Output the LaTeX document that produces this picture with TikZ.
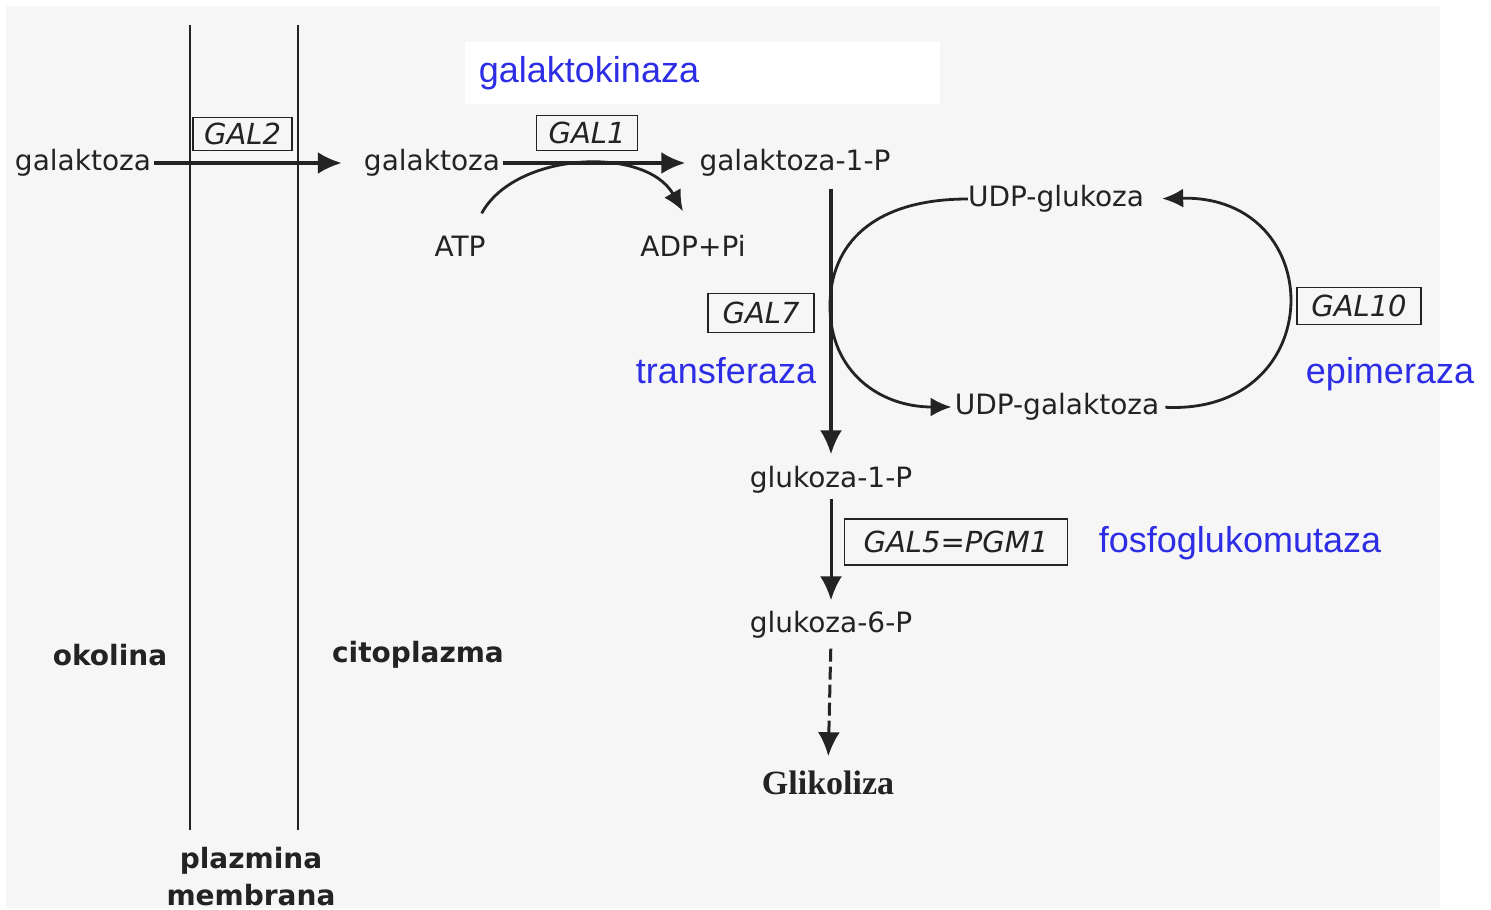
\documentclass[tikz,border=0pt]{standalone}
\usepackage{fontspec}
\setmainfont{DejaVu Sans}
\newfontfamily\bluefont{Liberation Sans}
\newfontfamily\headfont{Liberation Serif}
\usetikzlibrary{arrows.meta}
\definecolor{ink}{RGB}{35,35,35}
\definecolor{enzblue}{RGB}{45,45,230}
\definecolor{paper}{RGB}{246,246,246}

\begin{document}
\begin{tikzpicture}[x=1pt,y=-1pt,
  met/.style={inner sep=0pt, text=ink, font=\fontsize{28}{30}\selectfont,
    text height=21pt, text depth=6pt},
  region/.style={inner sep=0pt, text=ink, font=\fontsize{28}{30}\selectfont\bfseries, anchor=base},
  enz/.style={draw=ink, line width=1.5pt, inner sep=0pt, text=ink,
    font=\fontsize{29}{30}\selectfont\itshape},
  note/.style={inner sep=0pt, text=enzblue, font=\bluefont\fontsize{36}{38}\selectfont, anchor=base},
  flow/.style={draw=ink, line width=3.5pt, -{Latex[length=24pt,width=22pt]}},
  side/.style={draw=ink, line width=2.8pt},
  sidearr/.style={side, -{Latex[length=21pt,width=19pt]}},
  membrane/.style={draw=ink, line width=1.5pt}
]
\useasboundingbox (0,0) rectangle (1491,910);

% paper background
\fill[white] (0,0) rectangle (1491,910);
\fill[paper] (6,6) rectangle (1440,908);
\fill[white] (465,42) rectangle (940,104);

% plasma membrane
\draw[membrane] (190,25) -- (190,830);
\draw[membrane] (298,25) -- (298,830);

% compartments
\node[region] (okol) at (110,665) {okolina};
\node[region] (cito) at (418,662) {citoplazma};
\node[region] (mem1) at (251,868) {plazmina};
\node[region] (mem2) at (251,905) {membrana};

% metabolites
\node[met] (galL)  at (83,163)   {galaktoza};
\node[met] (galI)  at (432,163)  {galaktoza};
\node[met] (gal1p) at (795,163)  {galaktoza-1-P};
\node[met] (atp)   at (460,249)  {ATP};
\node[met] (adp)   at (693,249)  {ADP+Pi};
\node[met] (udpglc) at (1056,199) {UDP-glukoza};
\node[met] (udpgal) at (1057,407) {UDP-galaktoza};
\node[met] (glc1p) at (831,480)  {glukoza-1-P};
\node[met] (glc6p) at (831,625)  {glukoza-6-P};
\node[inner sep=0pt, text=ink, font=\headfont\fontsize{34}{36}\selectfont\bfseries, anchor=base]
  (glyc) at (828,794) {Glikoliza};

% enzyme genes
\node[enz, minimum width=99pt,  minimum height=33pt] (e2)  at (242.5,134) {GAL2};
\node[enz, minimum width=101pt, minimum height=35pt] (e1)  at (587,133)   {GAL1};
\node[enz, minimum width=106pt, minimum height=39pt] (e7)  at (761,313)   {GAL7};
\node[enz, minimum width=124pt, minimum height=37pt] (e10) at (1359,306)  {GAL10};
\node[enz, minimum width=223pt, minimum height=46pt] (e5)  at (956,542)   {GAL5=PGM1};

% enzyme names
\node[note] (kin) at (589,82)   {galaktokinaza};
\node[note] (tra) at (726,383)  {transferaza};
\node[note] (epi) at (1390,383) {epimeraza};
\node[note] (mut) at (1240,552) {fosfoglukomutaza};

% transport and phosphorylation
\draw[flow, shorten <=3pt, shorten >=22pt] (galL.east) -- (galI.west);
\draw[flow, shorten <=3pt, shorten >=14pt] (galI.east) -- (galI.east -| gal1p.west);
\draw[sidearr] ([xshift=-4pt,yshift=22pt]atp.north east)
  .. controls (515,152) and (645,145) .. ([xshift=-10pt,yshift=24pt]adp.north);

% transferase step
\coordinate (tj) at (830,306);
\draw[flow, line width=3.2pt, shorten <=12pt, shorten >=12pt]
  (gal1p.south -| glc1p) -- (glc1p.north);
\draw[side] (udpglc.west) .. controls (872,199) and (830,245) .. (tj);
\draw[sidearr, shorten >=3pt] (tj) .. controls (830,372) and (880,407) .. (udpgal.west);

% epimerase cycle
\draw[sidearr, shorten <=6pt, shorten >=18pt] (udpgal.east)
  .. controls (1330,415) and (1330,195) .. (udpglc.east);

% toward glycolysis
\draw[flow, line width=3pt, shorten <=5pt, shorten >=11pt] (glc1p.south) -- (glc6p.north);
\draw[flow, line width=3pt, dash pattern=on 13pt off 5pt, shorten <=10pt, shorten >=14pt]
  (glc6p.south) -- (glyc.north);
\end{tikzpicture}
\end{document}
